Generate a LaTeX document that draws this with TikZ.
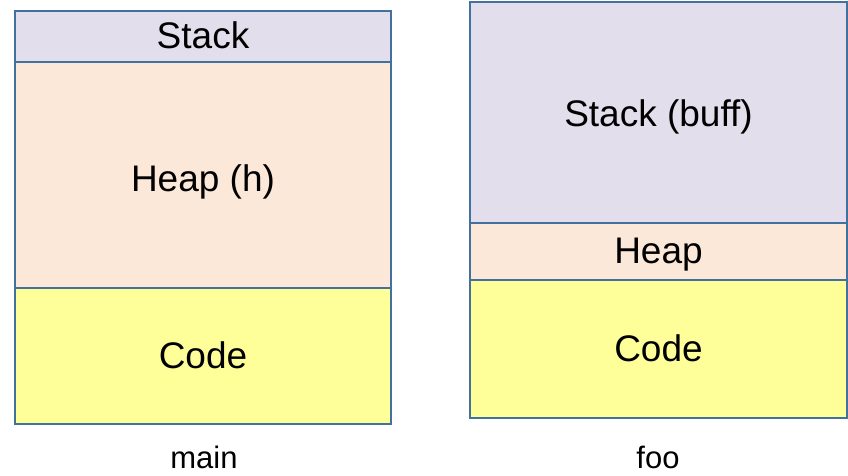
\documentclass[tikz,border=0pt]{standalone}
\usepackage{fontspec}
\setmainfont{Liberation Sans}
\definecolor{edge}{HTML}{41719C}
\definecolor{stackfill}{HTML}{E3DEEB}
\definecolor{heapfill}{HTML}{FCE8D8}
\definecolor{codefill}{HTML}{FFFF99}
\tikzset{
  seg/.style={draw=edge, line width=1.6pt, rectangle, anchor=north west,
    inner sep=0pt, outer sep=0pt, text height=24pt, text depth=0pt,
    font=\fontsize{37}{44}\selectfont},
  caption/.style={font=\fontsize{31}{37}\selectfont, inner sep=0pt, anchor=base}
}
\begin{document}
\begin{tikzpicture}[x=1pt, y=-1pt]
\useasboundingbox (0,0) rectangle (848,475);
% memory layout while main runs
\node[seg, fill=stackfill, minimum width=376pt, minimum height=51pt]  (mstack) at (15,11)  {Stack};
\node[seg, fill=heapfill,  minimum width=376pt, minimum height=226pt] (mheap)  at (15,62)  {\raisebox{-4pt}{Heap (h)}};
\node[seg, fill=codefill,  minimum width=376pt, minimum height=136pt] (mcode)  at (15,288) {Code};
% memory layout while foo runs
\node[seg, fill=stackfill, minimum width=377pt, minimum height=221pt] (fstack) at (470,2)   {\raisebox{-2pt}{Stack (buff)}};
\node[seg, fill=heapfill,  minimum width=377pt, minimum height=57pt]  (fheap)  at (470,223) {Heap};
\node[seg, fill=codefill,  minimum width=377pt, minimum height=138pt] (fcode)  at (470,280) {Code};
% captions
\node[caption] (lmain) at (204,468) {main};
\node[caption] (lfoo)  at (658,468) {foo};
\end{tikzpicture}
\end{document}
